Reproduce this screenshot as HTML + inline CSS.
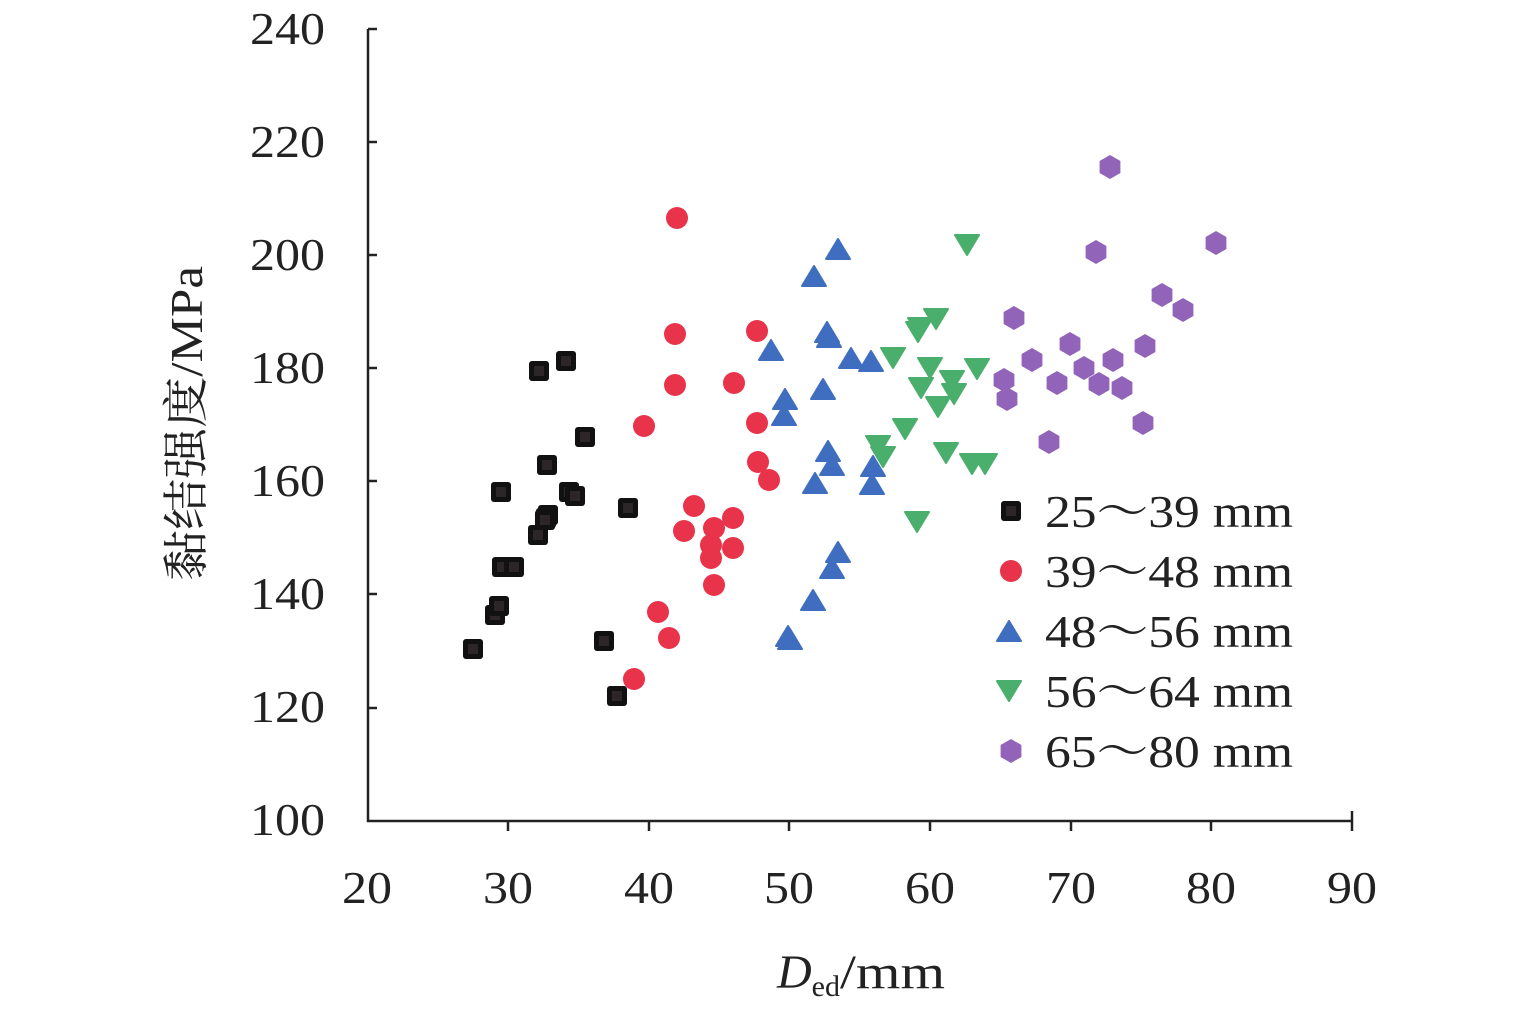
<!DOCTYPE html>
<html><head><meta charset="utf-8"><style>body{margin:0;background:#fff}svg{display:block}</style></head>
<body>
<svg width="1535" height="1017" viewBox="0 0 1535 1017" xmlns="http://www.w3.org/2000/svg">
<defs>
<g id="sq"><rect x="-10" y="-10" width="20" height="20" rx="3" fill="#111"/><rect x="-5" y="-5" width="10" height="10" fill="#2c2629"/></g>
<circle id="ci" r="11" fill="#e8334a"/>
<path id="tu" d="M0,-11 L12,9 L-12,9 Z" fill="#3f6ec0" stroke="#3f6ec0" stroke-width="2" stroke-linejoin="round"/>
<path id="td" d="M0,11 L12,-9 L-12,-9 Z" fill="#4aae6c" stroke="#4aae6c" stroke-width="2" stroke-linejoin="round"/>
<path id="hx" d="M0,-12 L10.4,-6 L10.4,6 L0,12 L-10.4,6 L-10.4,-6 Z" fill="#9164b9"/>
</defs>
<g stroke="#222" stroke-width="2.5" fill="none">
<path d="M368,29 L368,821 L1352,821"/>
<path d="M368,29h9M368,142h9M368,255h9M368,368h9M368,481h9M368,594h9M368,708h9"/>
<path d="M508,821v10M649,821v10M789,821v10M930,821v10M1071,821v10M1211,821v10M1352,821v-10M1352,821v10"/>
</g>
<g font-family="Liberation Serif, serif" font-size="46" fill="#222">
<text x="250" y="44" textLength="75" lengthAdjust="spacingAndGlyphs">240</text><text x="250" y="157" textLength="75" lengthAdjust="spacingAndGlyphs">220</text><text x="250" y="270" textLength="75" lengthAdjust="spacingAndGlyphs">200</text>
<text x="250" y="383" textLength="75" lengthAdjust="spacingAndGlyphs">180</text><text x="250" y="496" textLength="75" lengthAdjust="spacingAndGlyphs">160</text><text x="250" y="609" textLength="75" lengthAdjust="spacingAndGlyphs">140</text>
<text x="250" y="722" textLength="75" lengthAdjust="spacingAndGlyphs">120</text><text x="250" y="835" textLength="75" lengthAdjust="spacingAndGlyphs">100</text>
</g>
<g font-family="Liberation Serif, serif" font-size="46" fill="#222">
<text x="342" y="903" textLength="50" lengthAdjust="spacingAndGlyphs">20</text><text x="483" y="903" textLength="50" lengthAdjust="spacingAndGlyphs">30</text><text x="624" y="903" textLength="50" lengthAdjust="spacingAndGlyphs">40</text>
<text x="764" y="903" textLength="50" lengthAdjust="spacingAndGlyphs">50</text><text x="905" y="903" textLength="50" lengthAdjust="spacingAndGlyphs">60</text><text x="1046" y="903" textLength="50" lengthAdjust="spacingAndGlyphs">70</text>
<text x="1186" y="903" textLength="50" lengthAdjust="spacingAndGlyphs">80</text><text x="1327" y="903" textLength="50" lengthAdjust="spacingAndGlyphs">90</text>
</g>
<text x="777" y="988" font-family="Liberation Serif, serif" font-size="48" fill="#222"><tspan font-style="italic">D</tspan><tspan font-size="30" dy="8">ed</tspan><tspan dy="-8" textLength="105" lengthAdjust="spacingAndGlyphs">/mm</tspan></text>
<text transform="translate(202,424) rotate(-90)" x="-157" y="0" textLength="315" lengthAdjust="spacingAndGlyphs" font-family="Liberation Serif, 'Noto Serif CJK SC', serif" font-size="46" fill="#222">黏结强度/MPa</text>
<g>
<use href="#sq" x="473" y="649"/><use href="#sq" x="495" y="615"/><use href="#sq" x="499" y="606"/><use href="#sq" x="502" y="567"/><use href="#sq" x="514" y="567"/><use href="#sq" x="501" y="492"/><use href="#sq" x="538" y="535"/><use href="#sq" x="546" y="518"/><use href="#sq" x="548" y="515"/><use href="#sq" x="547" y="465"/><use href="#sq" x="539" y="371"/><use href="#sq" x="566" y="361"/><use href="#sq" x="569" y="492"/><use href="#sq" x="575" y="496"/><use href="#sq" x="585" y="437"/><use href="#sq" x="604" y="641"/><use href="#sq" x="617" y="696"/><use href="#sq" x="628" y="508"/><use href="#sq" x="545" y="520"/>
<use href="#ci" x="677" y="218"/><use href="#ci" x="675" y="334"/><use href="#ci" x="675" y="385"/><use href="#ci" x="644" y="426"/><use href="#ci" x="634" y="679"/><use href="#ci" x="658" y="612"/><use href="#ci" x="669" y="638"/><use href="#ci" x="684" y="531"/><use href="#ci" x="694" y="506"/><use href="#ci" x="711" y="545"/><use href="#ci" x="711" y="558"/><use href="#ci" x="714" y="528"/><use href="#ci" x="714" y="585"/><use href="#ci" x="733" y="518"/><use href="#ci" x="733" y="548"/><use href="#ci" x="734" y="383"/><use href="#ci" x="757" y="331"/><use href="#ci" x="757" y="423"/><use href="#ci" x="758" y="462"/><use href="#ci" x="769" y="480"/>
<use href="#tu" x="838" y="250"/><use href="#tu" x="814" y="277"/><use href="#tu" x="827" y="333"/><use href="#tu" x="829" y="338"/><use href="#tu" x="771" y="351"/><use href="#tu" x="851" y="359"/><use href="#tu" x="871" y="362"/><use href="#tu" x="823" y="390"/><use href="#tu" x="785" y="400"/><use href="#tu" x="784" y="416"/><use href="#tu" x="828" y="452"/><use href="#tu" x="832" y="466"/><use href="#tu" x="815" y="484"/><use href="#tu" x="873" y="467"/><use href="#tu" x="872" y="485"/><use href="#tu" x="838" y="553"/><use href="#tu" x="832" y="569"/><use href="#tu" x="813" y="601"/><use href="#tu" x="788" y="637"/><use href="#tu" x="790" y="640"/>
<use href="#td" x="967" y="244"/><use href="#td" x="936" y="318"/><use href="#td" x="920" y="327"/><use href="#td" x="918" y="331"/><use href="#td" x="893" y="357"/><use href="#td" x="930" y="367"/><use href="#td" x="977" y="368"/><use href="#td" x="952" y="380"/><use href="#td" x="921" y="387"/><use href="#td" x="954" y="393"/><use href="#td" x="938" y="406"/><use href="#td" x="905" y="428"/><use href="#td" x="878" y="445"/><use href="#td" x="883" y="456"/><use href="#td" x="946" y="452"/><use href="#td" x="972" y="463"/><use href="#td" x="985" y="463"/><use href="#td" x="917" y="521"/>
<use href="#hx" x="1110" y="167"/><use href="#hx" x="1216" y="243"/><use href="#hx" x="1096" y="252"/><use href="#hx" x="1162" y="295"/><use href="#hx" x="1183" y="310"/><use href="#hx" x="1014" y="318"/><use href="#hx" x="1070" y="344"/><use href="#hx" x="1145" y="346"/><use href="#hx" x="1032" y="360"/><use href="#hx" x="1084" y="368"/><use href="#hx" x="1113" y="360"/><use href="#hx" x="1004" y="380"/><use href="#hx" x="1057" y="383"/><use href="#hx" x="1099" y="384"/><use href="#hx" x="1122" y="388"/><use href="#hx" x="1007" y="399"/><use href="#hx" x="1143" y="423"/><use href="#hx" x="1049" y="442"/>
</g>
<g>
<use href="#sq" x="1011" y="511"/><use href="#ci" x="1011" y="571"/><use href="#tu" x="1009" y="632"/><use href="#td" x="1009" y="690"/><use href="#hx" x="1011" y="751"/>
</g>
<g font-family="Liberation Serif, 'Noto Serif CJK SC', serif" font-size="46" fill="#222">
<text x="1045" y="527" textLength="248" lengthAdjust="spacingAndGlyphs">25～39 mm</text><text x="1045" y="587" textLength="248" lengthAdjust="spacingAndGlyphs">39～48 mm</text><text x="1045" y="647" textLength="248" lengthAdjust="spacingAndGlyphs">48～56 mm</text><text x="1045" y="707" textLength="248" lengthAdjust="spacingAndGlyphs">56～64 mm</text><text x="1045" y="767" textLength="248" lengthAdjust="spacingAndGlyphs">65～80 mm</text>
</g>
</svg>
</body></html>
